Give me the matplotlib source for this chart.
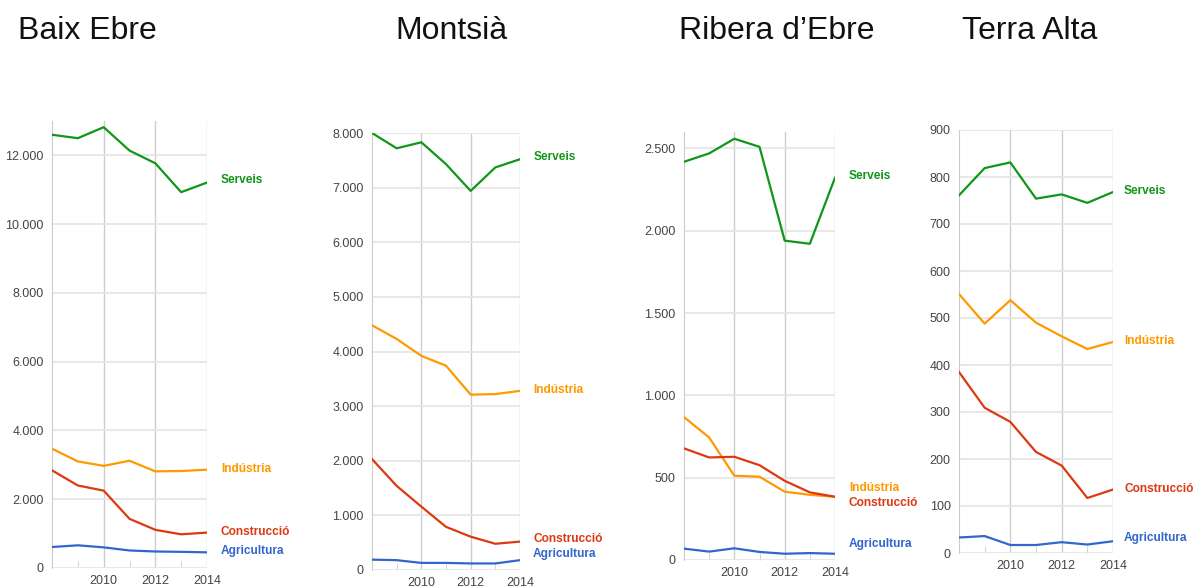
import numpy as np
import matplotlib
matplotlib.use("Agg")
import matplotlib.pyplot as plt
from matplotlib.ticker import FuncFormatter, MultipleLocator

plt.rcParams['font.family'] = ['Liberation Sans', 'DejaVu Sans']

# Data (employment by sector, 2008-2014)
years = [2008, 2009, 2010, 2011, 2012, 2013, 2014]
sectors = ['Serveis', 'Indústria', 'Construcció', 'Agricultura']
colors = ['#109618', '#ff9900', '#dc3912', '#3366cc']
regions = ['Baix Ebre', 'Montsià', "Ribera d’Ebre", 'Terra Alta']

baix_ebre_serveis = [12600, 12500, 12820, 12140, 11770, 10930, 11210]
baix_ebre_industria = [3470, 3100, 2970, 3120, 2810, 2820, 2860]
baix_ebre_construccio = [2840, 2400, 2250, 1430, 1110, 980, 1030]
baix_ebre_agricultura = [610, 660, 600, 510, 480, 470, 455]

montsia_serveis = [8000, 7720, 7830, 7430, 6940, 7370, 7520]
montsia_industria = [4480, 4230, 3920, 3740, 3210, 3220, 3280]
montsia_construccio = [2030, 1540, 1160, 790, 610, 480, 520]
montsia_agricultura = [190, 180, 130, 130, 120, 120, 180]

ribera_serveis = [2419, 2470, 2559, 2510, 1940, 1921, 2322]
ribera_industria = [868, 744, 512, 506, 415, 396, 384]
ribera_construccio = [678, 623, 627, 576, 481, 411, 384]
ribera_agricultura = [69, 51, 71, 49, 38, 42, 38]

terra_alta_serveis = [761, 819, 831, 754, 763, 745, 768]
terra_alta_industria = [551, 488, 538, 490, 461, 434, 449]
terra_alta_construccio = [385, 309, 279, 215, 186, 117, 135]
terra_alta_agricultura = [33, 36, 17, 17, 23, 18, 25]

series = [
    [baix_ebre_serveis, baix_ebre_industria, baix_ebre_construccio, baix_ebre_agricultura],
    [montsia_serveis, montsia_industria, montsia_construccio, montsia_agricultura],
    [ribera_serveis, ribera_industria, ribera_construccio, ribera_agricultura],
    [terra_alta_serveis, terra_alta_industria, terra_alta_construccio, terra_alta_agricultura],
]

# layout: axes box in pixels (left, top, right, bottom), y max, y step
W, H = 1193, 588
boxes = [(52, 121, 207, 568), (372, 133, 520, 570), (684, 132, 835, 560), (959, 130, 1113, 553)]
ymaxes = [13000, 8000, 2600, 900]
ysteps = [2000, 1000, 500, 100]
# label y positions (data units), nudged apart where lines meet
label_ys = [
    [11270, 2884, 1049, 495],
    [7561, 3295, 567, 293],
    [2333, 437, 346, 97],
    [770, 451, 136, 32],
]
label_dx = [10, 9.5, 10, 8]
title_x = [18, 395, 679, 962]


def fmt(v, pos):
    return f"{v:,.0f}".replace(",", ".")


fig = plt.figure(figsize=(W / 100, H / 100), dpi=100)

for i in range(4):
    l, t, r, b = boxes[i]
    ax = fig.add_axes([l / W, 1 - b / H, (r - l) / W, (b - t) / H])
    for vals, c in zip(series[i], colors):
        ax.plot(years, vals, color=c, lw=1.6, solid_joinstyle='round', zorder=3)
    ax.set_xlim(2008, 2014)
    ax.set_ylim(0, ymaxes[i])
    ax.yaxis.set_major_locator(MultipleLocator(ysteps[i]))
    ax.yaxis.set_major_formatter(FuncFormatter(fmt))
    ax.set_xticks([2010, 2012, 2014])
    ax.set_xticks([2009, 2011, 2013], minor=True)
    ax.grid(axis='y', color='#e6e6e6', lw=1.3, zorder=0)
    ax.grid(axis='x', which='major', color='#cccccc', lw=1.0, zorder=1)
    for s in ['top', 'right', 'bottom']:
        ax.spines[s].set_visible(False)
    ax.spines['left'].set_color('#cccccc')
    ax.tick_params(axis='y', length=0, pad=6, labelsize=9, labelcolor='#444444')
    ax.tick_params(axis='x', which='major', length=0, pad=5, labelsize=9, labelcolor='#444444')
    ax.tick_params(axis='x', which='minor', direction='in', length=5, color='#cccccc')
    for name, c, ly in zip(sectors, colors, label_ys[i]):
        ax.annotate(name, xy=(1.0, ly), xycoords=('axes fraction', 'data'),
                    xytext=(label_dx[i], 0), textcoords='offset points', va='center', ha='left',
                    color=c, fontsize=8.6, fontweight='bold', annotation_clip=False)
    fig.text(title_x[i] / W, 1 - 39 / H, regions[i], fontsize=23, ha='left', va='baseline', color='#111111')

fig.savefig('out.png', dpi=100)
